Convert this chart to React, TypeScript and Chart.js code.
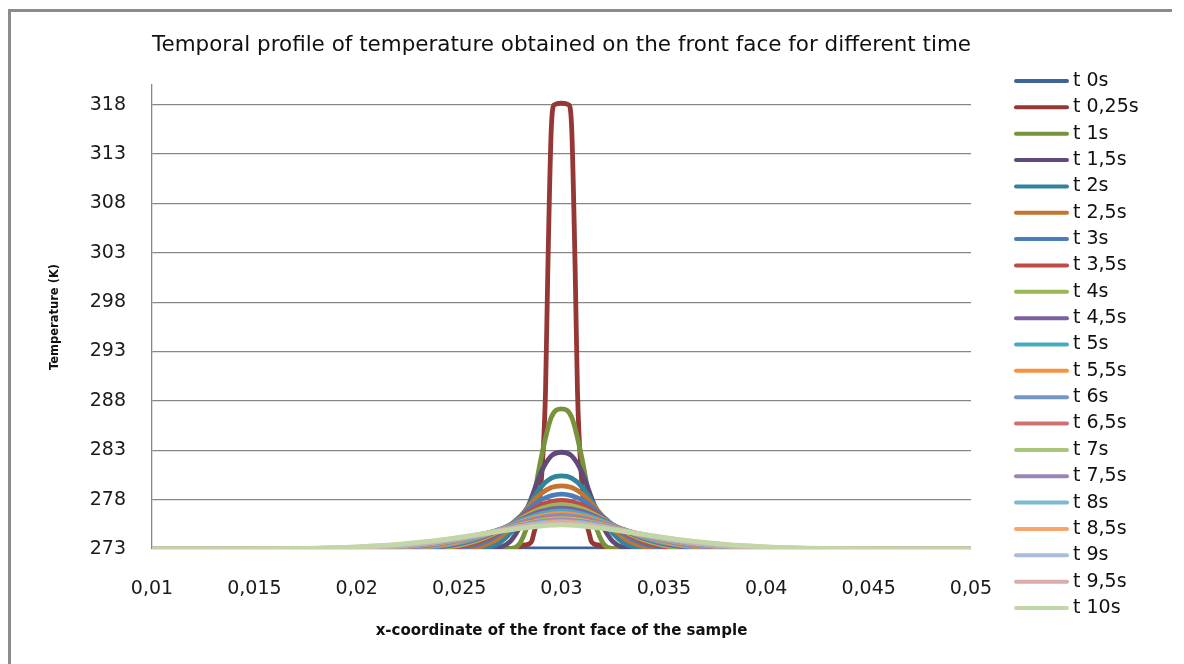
import React, { useEffect, useRef } from 'react';
import { Chart, registerables } from 'chart.js';

Chart.register(...registerables);

// ---------- data ----------
const seriesLabels = [
  't 0s', 't 0,25s', 't 1s', 't 1,5s', 't 2s', 't 2,5s', 't 3s', 't 3,5s', 't 4s', 't 4,5s',
  't 5s', 't 5,5s', 't 6s', 't 6,5s', 't 7s', 't 7,5s', 't 8s', 't 8,5s', 't 9s', 't 9,5s', 't 10s',
];

const seriesColors = [
  '#3E6394', '#953735', '#77933C', '#604A7B', '#31849B', '#C4742F', '#4A7EBB',
  '#BE4B48', '#98B954', '#7D60A0', '#46AAC5', '#F69240', '#7395C8', '#CD7371',
  '#AAC779', '#9A87B8', '#79B9D1', '#F8A56C', '#A9BCDA', '#D9ADAC', '#C3D6A8',
];

const xTickValues = [0.01, 0.015, 0.02, 0.025, 0.03, 0.035, 0.04, 0.045, 0.05];
const yTickValues = [273, 278, 283, 288, 293, 298, 303, 308, 313, 318];

const xFlat = [0.01, 0.05];
const xPulse = [
  0.01, 0.0276, 0.0279, 0.0281, 0.0284, 0.02855, 0.02865, 0.0288, 0.02905, 0.02922, 0.02933, 0.0295, 0.02965,
  0.03, 0.03035, 0.0305, 0.03067, 0.03078, 0.03095, 0.0312, 0.03135, 0.03145, 0.0316, 0.0319, 0.0321, 0.0324, 0.05,
];
const xNarrow = [
  0.01, 0.024, 0.025, 0.026, 0.0265, 0.027, 0.0275, 0.028, 0.0285, 0.029, 0.0295,
  0.03, 0.0305, 0.031, 0.0315, 0.032, 0.0325, 0.033, 0.0335, 0.034, 0.035, 0.036, 0.05,
];
const xWide = [
  0.01, 0.018, 0.02, 0.021, 0.022, 0.023, 0.024, 0.025, 0.026, 0.027, 0.028, 0.029,
  0.03, 0.031, 0.032, 0.033, 0.034, 0.035, 0.036, 0.037, 0.038, 0.039, 0.04, 0.042, 0.05,
];

const t0s = [273, 273];
const t025s = [273, 273, 273.1, 273.35, 273.5, 273.8, 274.6, 276, 281, 289, 301, 315.5, 318.0, 318.15, 318.0, 315.5, 301, 289, 281, 276, 274.6, 273.8, 273.5, 273.35, 273.1, 273, 273];
const t1s = [273, 273, 273, 273, 273, 273, 273.05, 273.68, 276.65, 282.17, 286.33, 287.2, 286.33, 282.17, 276.65, 273.68, 273.05, 273, 273, 273, 273, 273, 273];
const t15s = [273, 273, 273, 273, 273.02, 273.17, 273.78, 275.38, 278.01, 280.76, 282.43, 282.8, 282.43, 280.76, 278.01, 275.38, 273.78, 273.17, 273.02, 273, 273, 273, 273];
const t2s = [273, 273, 273, 273.06, 273.22, 273.67, 274.6, 276.05, 277.77, 279.29, 280.18, 280.4, 280.18, 279.29, 277.77, 276.05, 274.6, 273.67, 273.22, 273.06, 273, 273, 273];
const t25s = [273, 273, 273.03, 273.25, 273.59, 274.2, 275.13, 276.32, 277.56, 278.6, 279.23, 279.4, 279.23, 278.6, 277.56, 276.32, 275.13, 274.2, 273.59, 273.25, 273.03, 273, 273];
const t3s = [273, 273, 273, 273, 273, 273, 273.02, 273.12, 273.52, 274.58, 276.32, 277.97, 278.56, 277.97, 276.32, 274.58, 273.52, 273.12, 273.02, 273, 273, 273, 273, 273, 273];
const t35s = [273, 273, 273, 273, 273, 273.01, 273.06, 273.24, 273.74, 274.75, 276.17, 277.45, 277.93, 277.45, 276.17, 274.75, 273.74, 273.24, 273.06, 273.01, 273, 273, 273, 273, 273];
const t4s = [273, 273, 273, 273, 273, 273.03, 273.12, 273.37, 273.93, 274.87, 276.07, 277.1, 277.5, 277.1, 276.07, 274.87, 273.93, 273.37, 273.12, 273.03, 273, 273, 273, 273, 273];
const t45s = [273, 273, 273, 273, 273.02, 273.07, 273.2, 273.51, 274.08, 274.95, 275.97, 276.82, 277.15, 276.82, 275.97, 274.95, 274.08, 273.51, 273.2, 273.07, 273.02, 273, 273, 273, 273];
const t5s = [273, 273, 273, 273.01, 273.04, 273.12, 273.3, 273.64, 274.2, 274.98, 275.85, 276.56, 276.85, 276.56, 275.85, 274.98, 274.2, 273.64, 273.3, 273.12, 273.04, 273.01, 273, 273, 273];
const t55s = [273, 273, 273.01, 273.03, 273.08, 273.19, 273.39, 273.75, 274.29, 274.99, 275.74, 276.34, 276.6, 276.34, 275.74, 274.99, 274.29, 273.75, 273.39, 273.19, 273.08, 273.03, 273.01, 273, 273];
const t6s = [273, 273, 273.02, 273.05, 273.12, 273.25, 273.48, 273.85, 274.36, 275, 275.65, 276.18, 276.4, 276.18, 275.65, 275, 274.36, 273.85, 273.48, 273.25, 273.12, 273.05, 273.02, 273, 273];
const t65s = [273, 273.01, 273.03, 273.08, 273.16, 273.31, 273.55, 273.91, 274.39, 274.96, 275.55, 276.02, 276.22, 276.02, 275.55, 274.96, 274.39, 273.91, 273.55, 273.31, 273.16, 273.08, 273.03, 273.01, 273];
const t7s = [273, 273.01, 273.05, 273.11, 273.2, 273.36, 273.61, 273.96, 274.41, 274.94, 275.46, 275.88, 276.07, 275.88, 275.46, 274.94, 274.41, 273.96, 273.61, 273.36, 273.2, 273.11, 273.05, 273.01, 273];
const t75s = [273, 273.02, 273.07, 273.13, 273.24, 273.41, 273.66, 274, 274.43, 274.91, 275.39, 275.77, 275.94, 275.77, 275.39, 274.91, 274.43, 274, 273.66, 273.41, 273.24, 273.13, 273.07, 273.02, 273];
const t8s = [273, 273.03, 273.09, 273.17, 273.28, 273.46, 273.71, 274.04, 274.44, 274.89, 275.32, 275.67, 275.83, 275.67, 275.32, 274.89, 274.44, 274.04, 273.71, 273.46, 273.28, 273.17, 273.09, 273.03, 273];
const t85s = [273, 273.04, 273.12, 273.2, 273.33, 273.51, 273.76, 274.07, 274.45, 274.86, 275.26, 275.58, 275.73, 275.58, 275.26, 274.86, 274.45, 274.07, 273.76, 273.51, 273.33, 273.2, 273.12, 273.04, 273];
const t9s = [273, 273.05, 273.15, 273.24, 273.37, 273.55, 273.8, 274.1, 274.46, 274.85, 275.22, 275.51, 275.65, 275.51, 275.22, 274.85, 274.46, 274.1, 273.8, 273.55, 273.37, 273.24, 273.15, 273.05, 273];
const t95s = [273, 273.07, 273.18, 273.28, 273.42, 273.61, 273.85, 274.14, 274.48, 274.83, 275.17, 275.44, 275.57, 275.44, 275.17, 274.83, 274.48, 274.14, 273.85, 273.61, 273.42, 273.28, 273.18, 273.07, 273];
const t10s = [273, 273.09, 273.22, 273.33, 273.47, 273.66, 273.89, 274.17, 274.47, 274.79, 275.1, 275.33, 275.45, 275.33, 275.1, 274.79, 274.47, 274.17, 273.89, 273.66, 273.47, 273.33, 273.22, 273.09, 273];

const seriesX = [
  xFlat, xPulse, xNarrow, xNarrow, xNarrow, xNarrow,
  xWide, xWide, xWide, xWide, xWide, xWide, xWide, xWide, xWide, xWide, xWide, xWide, xWide, xWide, xWide,
];
const seriesY = [
  t0s, t025s, t1s, t15s, t2s, t25s, t3s, t35s, t4s, t45s, t5s, t55s,
  t6s, t65s, t7s, t75s, t8s, t85s, t9s, t95s, t10s,
];

// ---------- plugins ----------
const framePlugin = {
  id: 'frame',
  beforeDraw(chart: any) {
    const { ctx } = chart;
    ctx.save();
    ctx.fillStyle = '#ffffff';
    ctx.fillRect(0, 0, chart.width, chart.height);
    ctx.strokeStyle = '#8c8c8c';
    ctx.lineWidth = 3;
    ctx.beginPath();
    ctx.moveTo(9.5, chart.height);
    ctx.lineTo(9.5, 10.5);
    ctx.lineTo(1172, 10.5);
    ctx.stroke();
    ctx.restore();
  },
};

const sideLegendPlugin = {
  id: 'sideLegend',
  afterDraw(chart: any) {
    const { ctx } = chart;
    ctx.save();
    chart.data.datasets.forEach((ds: any, i: number) => {
      const y = 81 + i * 26.35;
      ctx.strokeStyle = ds.borderColor;
      ctx.lineWidth = 4;
      ctx.lineCap = 'round';
      ctx.beginPath();
      ctx.moveTo(1016, y);
      ctx.lineTo(1067, y);
      ctx.stroke();
      ctx.fillStyle = '#111111';
      ctx.font = '19px "DejaVu Sans"';
      ctx.textBaseline = 'middle';
      ctx.textAlign = 'left';
      ctx.fillText(ds.label, 1073, y);
    });
    ctx.restore();
  },
};

export default function App() {
  const ref = useRef<HTMLCanvasElement>(null);

  useEffect(() => {
    if (!ref.current) return;
    const datasets = seriesLabels.map((label, i) => ({
      label,
      data: seriesX[i].map((x, j) => ({ x, y: seriesY[i][j] })),
      borderColor: seriesColors[i],
      backgroundColor: seriesColors[i],
      borderWidth: 4.8,
      pointRadius: 0,
      pointHoverRadius: 0,
      fill: false,
      tension: 0.4,
      cubicInterpolationMode: 'monotone' as const,
      borderCapStyle: 'round' as const,
      borderJoinStyle: 'round' as const,
      order: seriesLabels.length - i,
    }));

    const chart = new Chart(ref.current, {
      type: 'line',
      data: { datasets },
      plugins: [framePlugin, sideLegendPlugin],
      options: {
        responsive: false,
        animation: false,
        events: [],
        layout: { padding: { top: 10, left: 20, right: 213, bottom: 0 } },
        plugins: {
          legend: { display: false },
          tooltip: { enabled: false },
          title: {
            display: true,
            fullSize: false,
            text: 'Temporal profile of temperature obtained on the front face for different time',
            color: '#111111',
            font: { family: 'DejaVu Sans', size: 22, weight: 'normal' },
            padding: { top: 21.8, bottom: 26.8 },
          },
        },
        scales: {
          x: {
            type: 'linear',
            min: 0.01,
            max: 0.05,
            afterBuildTicks: (axis: any) => {
              axis.ticks = xTickValues.map((v) => ({ value: v }));
            },
            afterFit: (axis: any) => {
              axis.height = 115;
            },
            grid: { display: false, drawTicks: false },
            border: { display: false },
            ticks: {
              autoSkip: false,
              maxRotation: 0,
              padding: 28.6,
              color: '#1a1a1a',
              font: { family: 'DejaVu Sans', size: 19 },
              callback: (v: any) => String(v).replace('.', ','),
            },
            title: {
              display: true,
              text: 'x-coordinate of the front face of the sample',
              color: '#111111',
              font: { family: 'DejaVu Sans', size: 15, weight: 'bold' },
              padding: { top: 0, bottom: 24 },
            },
          },
          y: {
            type: 'linear',
            min: 273,
            max: 320,
            afterBuildTicks: (axis: any) => {
              axis.ticks = yTickValues.map((v) => ({ value: v }));
            },
            afterFit: (axis: any) => {
              axis.width = 132;
            },
            grid: { color: '#878787', lineWidth: 1.3, drawTicks: false },
            border: { display: true, color: '#878787', width: 1.3 },
            ticks: {
              padding: 26,
              color: '#1a1a1a',
              font: { family: 'DejaVu Sans', size: 19 },
            },
            title: {
              display: true,
              text: 'Temperature (K)',
              color: '#111111',
              font: { family: 'DejaVu Sans', size: 11.5, weight: 'bold' },
              padding: { top: 28, bottom: 0 },
            },
          },
        },
      },
    });
    return () => chart.destroy();
  }, []);

  return (
    <div style={{ position: 'fixed', left: 0, top: 0, width: 1184, height: 664, background: '#fff' }}>
      <canvas ref={ref} width={1184} height={664} style={{ display: 'block', width: 1184, height: 664 }} />
    </div>
  );
}
